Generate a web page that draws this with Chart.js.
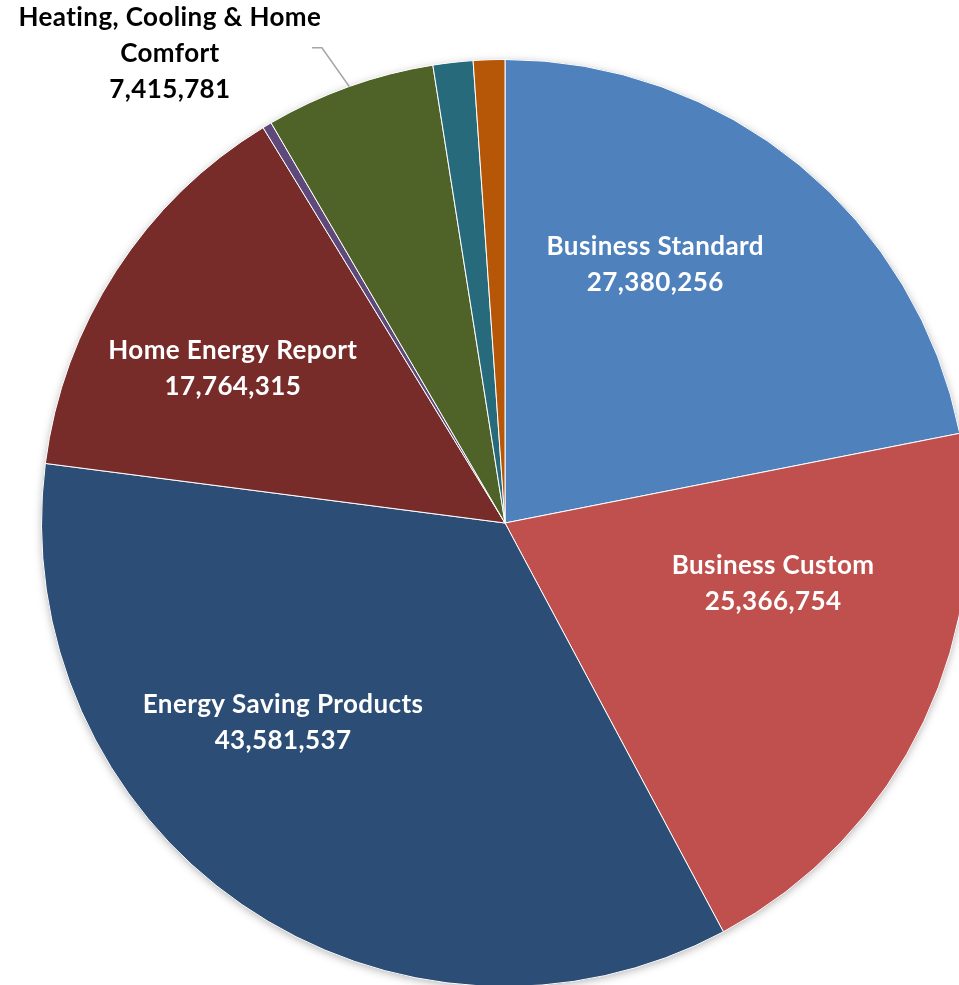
<!DOCTYPE html>
<html>
<head>
<meta charset="utf-8">
<script src="https://cdn.jsdelivr.net/npm/chart.js@4"></script>
<style>
  html, body { margin: 0; padding: 0; background: #fff; overflow: hidden; }
  #pie { display: block; }
</style>
</head>
<body>
<canvas id="pie" width="1010" height="1046"></canvas>
<script>
// program savings by category
const categories = [
  "Business Standard",
  "Business Custom",
  "Energy Saving Products",
  "Home Energy Report",
  "Other A",
  ["Heating, Cooling & Home", "Comfort"],
  "Other B",
  "Other C",
];
const savings = [27380256, 25366754, 43581537, 17764315, 400000, 7415781, 1740000, 1370000];
const sliceColors = ["#4F81BD", "#C0504D", "#2C4D75", "#772C2A", "#5F497A", "#4F6228", "#276A7C", "#B65708"];
const showLabel = [true, true, true, true, false, true, false, false];

// where each label sits: [degrees from slice middle, fraction of radius]
const labelPlace = [[-9.2, 0.644], [-12.6, 0.593], [13.4, 0.644], [-3.4, 0.675], null, [-15.9, 1.244], null, null];
const labelFont = "bold 26px Lato";
const lineGap = 36;

const fmt = (v) => v.toLocaleString("en-US");

// soft shadow under the whole pie
const pieShadow = {
  id: "pieShadow",
  beforeDatasetsDraw(chart) {
    const arc = chart.getDatasetMeta(0).data[0];
    if (!arc) return;
    const ctx = chart.ctx;
    ctx.save();
    ctx.shadowColor = "rgba(0,0,0,0.35)";
    ctx.shadowBlur = 10;
    ctx.shadowOffsetY = 2;
    ctx.fillStyle = "#fff";
    ctx.beginPath();
    ctx.arc(arc.x, arc.y, arc.outerRadius - 1, 0, Math.PI * 2);
    ctx.fill();
    ctx.restore();
  },
};

const sliceLabels = {
  id: "sliceLabels",
  afterDatasetsDraw(chart) {
    const ctx = chart.ctx;
    const arcs = chart.getDatasetMeta(0).data;
    ctx.save();
    ctx.font = labelFont;
    ctx.letterSpacing = "0.4px";
    ctx.textRendering = "optimizeSpeed";
    ctx.textAlign = "center";
    ctx.textBaseline = "middle";
    arcs.forEach((arc, i) => {
      if (!showLabel[i]) return;
      const mid = (arc.startAngle + arc.endAngle) / 2;
      const [offDeg, frac] = labelPlace[i];
      const a = mid + (offDeg * Math.PI) / 180;
      const r = arc.outerRadius * frac;
      const x = arc.x + r * Math.cos(a);
      const y = arc.y + r * Math.sin(a);
      const name = Array.isArray(categories[i]) ? categories[i] : [categories[i]];
      const lines = [...name, fmt(savings[i])];
      const outside = frac > 1;
      ctx.fillStyle = outside ? "#000" : "#fff";
      const top = y - ((lines.length - 1) * lineGap) / 2;
      lines.forEach((t, k) => ctx.fillText(t, x, top + k * lineGap));

      if (outside) {
        // leader line from the slice edge back to the label
        const ex = arc.x + arc.outerRadius * Math.cos(mid);
        const ey = arc.y + arc.outerRadius * Math.sin(mid);
        ctx.strokeStyle = "#A6A6A6";
        ctx.lineWidth = 1.5;
        ctx.beginPath();
        ctx.moveTo(ex, ey);
        ctx.lineTo(x + 152, top + 30);
        ctx.lineTo(x + 142, top + 30);
        ctx.stroke();
      }
    });
    ctx.restore();
  },
};

new Chart(document.getElementById("pie"), {
  type: "pie",
  data: {
    labels: categories,
    datasets: [
      {
        data: savings,
        backgroundColor: sliceColors,
        borderColor: "#ffffff",
        borderWidth: 1,
        hoverOffset: 0,
      },
    ],
  },
  options: {
    responsive: false,
    animation: false,
    devicePixelRatio: 1,
    layout: { padding: { left: 41, right: 41, top: 59, bottom: 59 } },
    plugins: {
      legend: { display: false },
      tooltip: { enabled: false },
    },
  },
  plugins: [pieShadow, sliceLabels],
});
</script>
</body>
</html>
